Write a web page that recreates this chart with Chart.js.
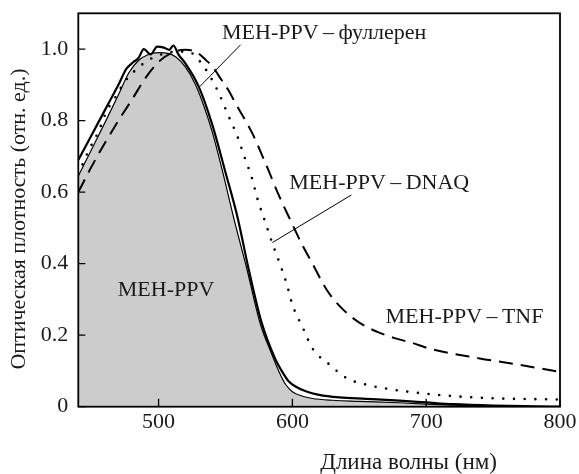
<!DOCTYPE html>
<html>
<head>
<meta charset="utf-8">
<script src="https://cdn.jsdelivr.net/npm/chart.js@4.4.1/dist/chart.umd.min.js"></script>
<style>
  html, body { margin: 0; padding: 0; background: #fff; }
</style>
</head>
<body>
<canvas id="absChart" width="579" height="474"></canvas>
<script>
// tick positions
const xTicks = [500, 600, 700, 800];
const yTicks = [0, 0.2, 0.4, 0.6, 0.8, 1.0];

// MEH-PPV (серая область)
const pureX = [440, 450, 460, 470, 478, 485, 492, 500, 507, 513, 520, 527, 533, 540, 548, 556, 566, 576, 584, 590, 595, 600, 607, 615, 630, 650, 680, 700, 730, 760, 800];
const pureY = [0.645, 0.72, 0.795, 0.872, 0.935, 0.968, 0.984, 0.99, 0.988, 0.978, 0.95, 0.905, 0.85, 0.77, 0.655, 0.53, 0.385, 0.232, 0.152, 0.098, 0.062, 0.042, 0.03, 0.023, 0.018, 0.015, 0.011, 0.007, 0.003, 0.001, 0];

// MEH-PPV – фуллерен
const fullX = [440, 450, 460, 470, 476, 481, 485, 489, 494, 499, 504, 508, 511, 515, 520, 530, 540, 550, 559, 567, 577, 587, 592, 597, 603, 610, 620, 635, 655, 680, 700, 720, 750, 780, 800];
const fullY = [0.69, 0.76, 0.83, 0.9, 0.945, 0.963, 0.975, 1.0, 0.985, 1.007, 1.004, 0.998, 1.01, 0.984, 0.96, 0.895, 0.79, 0.655, 0.53, 0.39, 0.235, 0.135, 0.1, 0.072, 0.055, 0.043, 0.033, 0.026, 0.022, 0.017, 0.012, 0.007, 0.003, 0.001, 0];

// MEH-PPV – DNAQ
const dnaqX = [440, 448, 455, 461, 468, 474, 483, 490, 497, 505, 515, 524, 531, 537, 545, 552, 559, 564, 570, 574, 580, 585, 591, 596, 600, 604, 608, 615, 628, 641, 656, 673, 698, 740, 800];
const dnaqY = [0.65, 0.718, 0.769, 0.825, 0.867, 0.905, 0.942, 0.963, 0.978, 0.988, 0.993, 0.99, 0.965, 0.933, 0.877, 0.815, 0.755, 0.7, 0.636, 0.58, 0.513, 0.457, 0.396, 0.34, 0.285, 0.25, 0.219, 0.163, 0.117, 0.079, 0.061, 0.049, 0.037, 0.025, 0.02];

// MEH-PPV – TNF
const tnfX = [440, 450, 460, 470, 480, 490, 500, 510, 520, 528, 536, 541, 545, 552, 558, 566, 570, 580, 590, 600, 607, 615, 626, 637, 650, 663, 677, 690, 702, 740, 770, 800];
const tnfY = [0.6, 0.672, 0.738, 0.8, 0.858, 0.918, 0.964, 0.99, 0.998, 0.992, 0.967, 0.948, 0.925, 0.886, 0.845, 0.793, 0.765, 0.68, 0.59, 0.51, 0.455, 0.4, 0.325, 0.275, 0.235, 0.21, 0.191, 0.178, 0.163, 0.135, 0.117, 0.097];

const FONT = "'Liberation Serif', 'Times New Roman', serif";
const INK = '#1a1a1a';

// подписи кривых (в единицах осей)
const notes = [
    { text: 'MEH-PPV\u2009–\u2009фуллерен', x: 547.4, y: 1.045 },
    { text: 'MEH-PPV\u2009–\u2009DNAQ', x: 597.7, y: 0.626 },
    { text: 'MEH-PPV\u2009–\u2009TNF', x: 669.6, y: 0.251 },
    { text: 'MEH-PPV', x: 469.5, y: 0.326 }
];
const leaders = [
    [561.3, 1.012, 530.8, 0.895],
    [644.1, 0.592, 585.1, 0.459]
];

function pts(xs, ys) {
    return xs.map((v, i) => ({ x: v, y: ys[i] }));
}

const frame = {
    id: 'frame',
    afterDatasetsDraw(chart) {
        const { ctx, chartArea: a, scales: { x, y } } = chart;
        ctx.save();
        ctx.strokeStyle = '#000';
        ctx.lineWidth = 1.8;
        ctx.strokeRect(a.left, a.top, a.right - a.left, a.bottom - a.top);

        // засечки внутрь
        ctx.lineWidth = 1.3;
        ctx.beginPath();
        x.ticks.forEach(t => {
            const px = x.getPixelForValue(t.value);
            ctx.moveTo(px, a.bottom);
            ctx.lineTo(px, a.bottom - 8);
        });
        y.ticks.forEach(t => {
            const py = y.getPixelForValue(t.value);
            ctx.moveTo(a.left, py);
            ctx.lineTo(a.left + 7, py);
        });
        ctx.stroke();

        ctx.lineWidth = 1;
        ctx.beginPath();
        leaders.forEach(l => {
            ctx.moveTo(x.getPixelForValue(l[0]), y.getPixelForValue(l[1]));
            ctx.lineTo(x.getPixelForValue(l[2]), y.getPixelForValue(l[3]));
        });
        ctx.stroke();

        ctx.fillStyle = INK;
        ctx.font = '22px ' + FONT;
        ctx.textBaseline = 'middle';
        ctx.textAlign = 'left';
        notes.forEach(n => {
            ctx.fillText(n.text, x.getPixelForValue(n.x), y.getPixelForValue(n.y));
        });

        // подписи осей
        ctx.translate(19, (a.top + a.bottom) / 2 + 9);
        ctx.rotate(-Math.PI / 2);
        ctx.textAlign = 'center';
        ctx.fillText('Оптическая плотность (отн. ед.)', 0, 0);
        ctx.setTransform(1, 0, 0, 1, 0, 0);
        ctx.font = '23px ' + FONT;
        ctx.textAlign = 'right';
        ctx.fillText('Длина волны (нм)', a.right - 63, a.bottom + 56);
        ctx.restore();
    }
};

const ctx = document.getElementById('absChart').getContext('2d');
const absChart = new Chart(ctx, {
    type: 'line',
    data: {
        datasets: [{
            label: 'MEH-PPV',
            data: pts(pureX, pureY),
            borderColor: '#000',
            borderWidth: 1.2,
            backgroundColor: '#cccccc',
            fill: 'origin',
            order: 4
        }, {
            label: 'MEH-PPV – фуллерен',
            data: pts(fullX, fullY),
            borderColor: '#000',
            borderWidth: 2.2,
            fill: false,
            order: 3
        }, {
            label: 'MEH-PPV – DNAQ',
            data: pts(dnaqX, dnaqY),
            borderColor: '#000',
            borderWidth: 2.6,
            borderDash: [0, 10.7],
            borderCapStyle: 'round',
            fill: false,
            order: 2
        }, {
            label: 'MEH-PPV – TNF',
            data: pts(tnfX, tnfY),
            borderColor: '#000',
            borderWidth: 2,
            borderDash: [14, 8],
            fill: false,
            order: 1
        }]
    },
    options: {
        responsive: false,
        animation: false,
        elements: {
            point: { radius: 0 },
            line: { cubicInterpolationMode: 'monotone' }
        },
        layout: { padding: { top: 13.3, right: 19, left: 0, bottom: 0 } },
        plugins: {
            legend: { display: false },
            tooltip: { enabled: false }
        },
        scales: {
            x: {
                type: 'linear',
                min: 440,
                max: 800,
                grid: { display: false, drawTicks: false, tickLength: 0 },
                border: { display: false },
                afterBuildTicks: s => { s.ticks = xTicks.map(v => ({ value: v })); },
                afterFit: s => { s.height = 67.3; s.paddingLeft = 0; s.paddingRight = 0; },
                ticks: {
                    padding: 2,
                    color: INK,
                    font: { family: FONT, size: 22 },
                    maxRotation: 0
                }
            },
            y: {
                min: 0,
                max: 1.1,
                grid: { display: false, drawTicks: false, tickLength: 0 },
                border: { display: false },
                afterBuildTicks: s => { s.ticks = yTicks.map(v => ({ value: v })); },
                afterFit: s => { s.width = 78.3; s.paddingTop = 0; s.paddingBottom = 0; },
                ticks: {
                    padding: 10,
                    color: INK,
                    font: { family: FONT, size: 22 },
                    callback: v => v === 0 ? '0' : v.toFixed(1)
                }
            }
        }
    },
    plugins: [frame]
});
</script>
</body>
</html>
